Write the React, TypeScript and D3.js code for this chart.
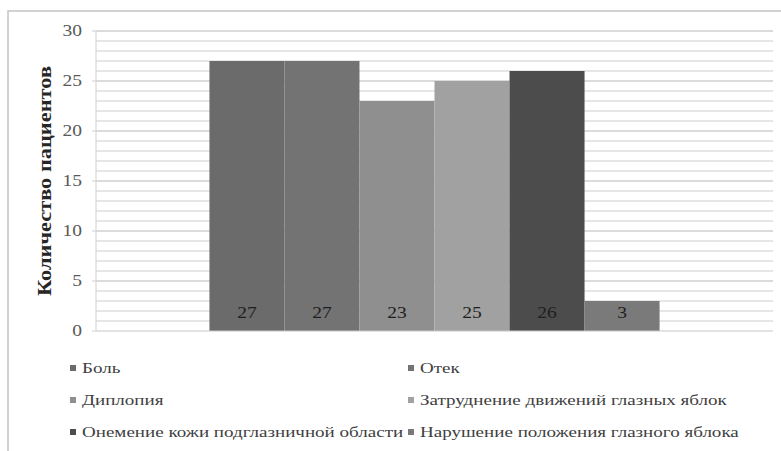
import React from "react";
import * as d3 from "d3";

// Chart data
const categories = ["Симптомы"];
const seriesNames = [
  "Боль",
  "Отек",
  "Диплопия",
  "Затруднение движений глазных яблок",
  "Онемение кожи подглазничной области",
  "Нарушение положения глазного яблока",
];
const seriesValues = [27, 27, 23, 25, 26, 3];
const seriesColors = ["#6b6b6b", "#737373", "#8f8f8f", "#a1a1a1", "#4c4c4c", "#7a7a7a"];
const yTicks = [0, 5, 10, 15, 20, 25, 30];
const yTitle = "Количество пациентов";

const W = 781;
const H = 451;
const plot = { left: 96, right: 773, top: 31, bottom: 331 };
const FONT = "'Liberation Serif', 'Times New Roman', Times, serif";
const SX = 1.22; // horizontal stretch applied to axis and value text
const LSX = 1.27; // horizontal stretch applied to legend text

export default function App() {
  const y = d3.scaleLinear().domain([0, 30]).range([plot.bottom, plot.top]);
  const x0 = d3
    .scaleBand<string>()
    .domain(categories)
    .range([plot.left, plot.right])
    .paddingInner(0)
    .paddingOuter(0.252);
  const x1 = d3
    .scaleBand<string>()
    .domain(seriesNames)
    .range([0, x0.bandwidth()])
    .padding(0);

  const minor = d3.range(1, 31);

  const legendCols = [70, 408];
  const legendRows = [368, 400, 432];

  return (
    <svg
      width={W}
      height={H}
      style={{ position: "absolute", left: 0, top: 0, background: "#fff" }}
      fontFamily={FONT}
    >
      {/* outer frame */}
      <rect x={8} y={11} width={W} height={H} fill="none" stroke="#c4c4c4" strokeWidth={1.5} />

      {/* gridlines */}
      {minor.map((v) => (
        <line
          key={v}
          x1={plot.left}
          x2={plot.right}
          y1={y(v)}
          y2={y(v)}
          stroke={v % 5 === 0 ? "#cfcfcf" : "#dedede"}
          strokeWidth={1.3}
        />
      ))}

      {/* y axis */}
      <line x1={plot.left} x2={plot.left} y1={plot.top} y2={plot.bottom} stroke="#cfcfcf" />
      {yTicks.map((t) => (
        <g key={t}>
          <line x1={plot.left - 4} x2={plot.left} y1={y(t)} y2={y(t)} stroke="#cfcfcf" />
          <g transform={`translate(${plot.left - 14},${y(t)}) scale(${SX},1)`}>
            <text textAnchor="end" dominantBaseline="central" fontSize={16} fill="#595959">
              {t}
            </text>
          </g>
        </g>
      ))}

      {/* bars */}
      {categories.map((c) => (
        <g key={c} transform={`translate(${x0(c)},0)`}>
          {seriesNames.map((s, i) => (
            <rect
              key={s}
              x={x1(s)}
              y={y(seriesValues[i])}
              width={x1.bandwidth()}
              height={y(0) - y(seriesValues[i])}
              fill={seriesColors[i]}
            />
          ))}
          {seriesNames.map((s, i) => (
            <g
              key={s + "-lbl"}
              transform={`translate(${(x1(s) as number) + x1.bandwidth() / 2},${y(0) - 18}) scale(${SX},1)`}
            >
              <text textAnchor="middle" dominantBaseline="central" fontSize={16} fill="#1f1f1f">
                {seriesValues[i]}
              </text>
            </g>
          ))}
        </g>
      ))}

      {/* x axis */}
      <line x1={plot.left} x2={plot.right} y1={plot.bottom} y2={plot.bottom} stroke="#c8c8c8" strokeWidth={1.2} />

      {/* y title */}
      <text
        transform={`translate(45,${(plot.top + plot.bottom) / 2}) rotate(-90)`}
        textAnchor="middle"
        dominantBaseline="central"
        fontSize={18}
        fontWeight="bold"
        fill="#262626"
        textLength={230}
        lengthAdjust="spacingAndGlyphs"
      >
        {yTitle}
      </text>

      {/* legend */}
      {seriesNames.map((s, i) => {
        const lx = legendCols[i % 2];
        const ly = legendRows[Math.floor(i / 2)];
        return (
          <g key={s + "-leg"}>
            <rect x={lx} y={ly - 3} width={6} height={6} fill={seriesColors[i]} />
            <g transform={`translate(${lx + 12},${ly}) scale(${LSX},1)`}>
              <text dominantBaseline="central" fontSize={15} fill="#404040">
                {s}
              </text>
            </g>
          </g>
        );
      })}
    </svg>
  );
}
